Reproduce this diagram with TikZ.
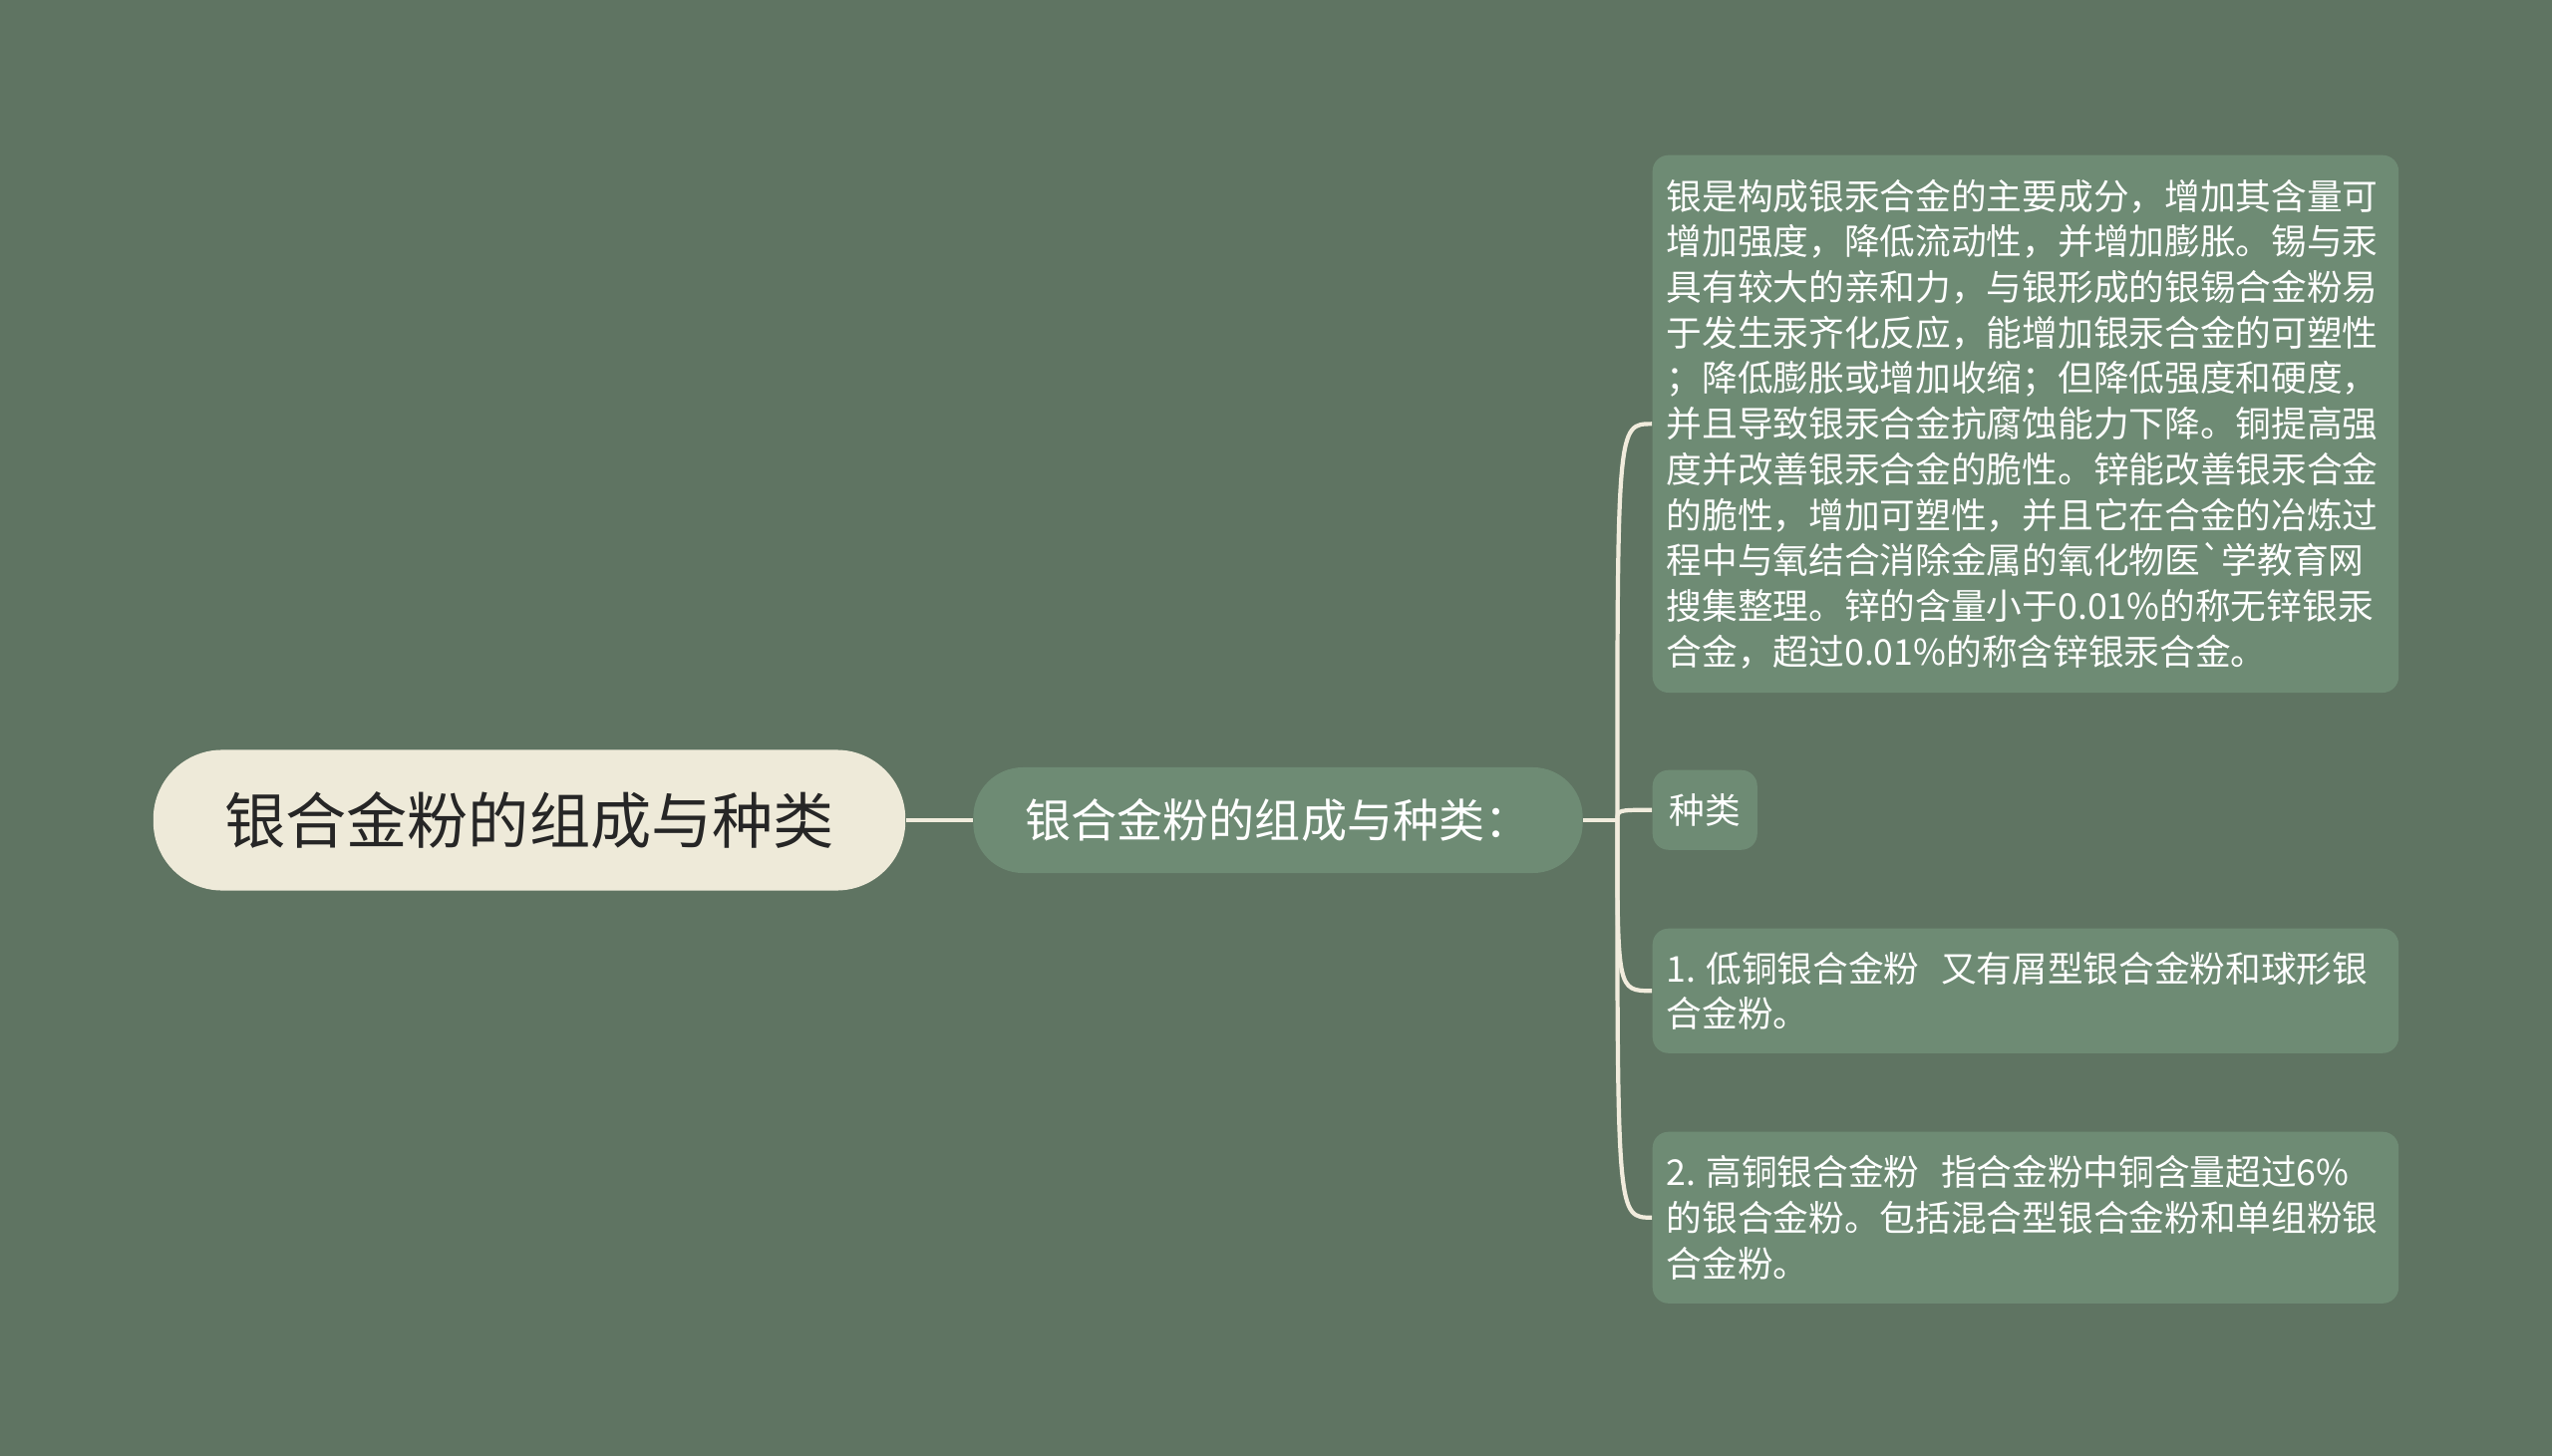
\documentclass[tikz,border=0pt]{standalone}
\usepackage{fontspec}
\setmainfont{Noto Sans CJK SC}
\usetikzlibrary{positioning}
\definecolor{bgcol}{HTML}{5F7462}
\definecolor{boxcol}{HTML}{6E8B74}
\definecolor{rootcol}{HTML}{EEEAD9}
\definecolor{linecol}{HTML}{F1ECDD}
\tikzset{
  leaf/.style={fill=boxcol, rounded corners=0.16cm, text=white, align=left, anchor=north west,
    font=\fontsize{10.15}{13}\selectfont, inner xsep=0.14cm, inner ysep=0pt},
  link/.style={draw=linecol, line width=1.2pt},
}
\begin{document}
\begin{tikzpicture}[x=0.01cm, y=-0.01cm]
  \fill[bgcol] (0,0) rectangle (2560,1461);
  \node[fill=rootcol, rounded corners=0.69cm, minimum width=7.54cm, minimum height=1.41cm,
    font=\fontsize{17.4}{20}\selectfont, text=black!85] (root) at (531,823) {银合金粉的组成与种类};
  \node[fill=boxcol, rounded corners=0.5cm, minimum width=6.11cm, minimum height=1.06cm,
    font=\fontsize{13.1}{16}\selectfont, text=white] (sub) at (1282,823) {银合金粉的组成与种类：};

  \node[leaf, text width=7.2cm, minimum height=5.39cm] (b1) at (1657,155) {银是构成银汞合金的主要成分，增加其含量可\\
    增加强度，降低流动性，并增加膨胀。锡与汞\\
    具有较大的亲和力，与银形成的银锡合金粉易\\
    于发生汞齐化反应，能增加银汞合金的可塑性\\
    ；降低膨胀或增加收缩；但降低强度和硬度，\\
    并且导致银汞合金抗腐蚀能力下降。铜提高强\\
    度并改善银汞合金的脆性。锌能改善银汞合金\\
    的脆性，增加可塑性，并且它在合金的冶炼过\\
    程中与氧结合消除金属的氧化物医\textasciigrave 学教育网\\
    搜集整理。锌的含量小于0.01\%的称无锌银汞\\
    合金，超过0.01\%的称含锌银汞合金。};
  \node[leaf, minimum width=1.05cm, minimum height=0.8cm] (b2) at (1657,772) {种类};
  \node[leaf, text width=7.2cm, minimum height=1.25cm] (b3) at (1657,931) {1.\hspace{0.28em}低铜银合金粉\hspace{0.6em}又有屑型银合金粉和球形银\\
    合金粉。};
  \node[leaf, text width=7.2cm, minimum height=1.72cm] (b4) at (1657,1135) {2.\hspace{0.28em}高铜银合金粉\hspace{0.6em}指合金粉中铜含量超过6\%\\
    的银合金粉。包括混合型银合金粉和单组粉银\\
    合金粉。};

  \draw[link] (root.east) -- (sub.west);
  \draw[link] (sub.east) -- ++(34,0) coordinate (fork);
  \foreach \b in {b1,b2,b3,b4}
    \draw[link] (fork) .. controls (fork |- \b.west) and (fork |- \b.west) .. (\b.west);
\end{tikzpicture}
\end{document}
